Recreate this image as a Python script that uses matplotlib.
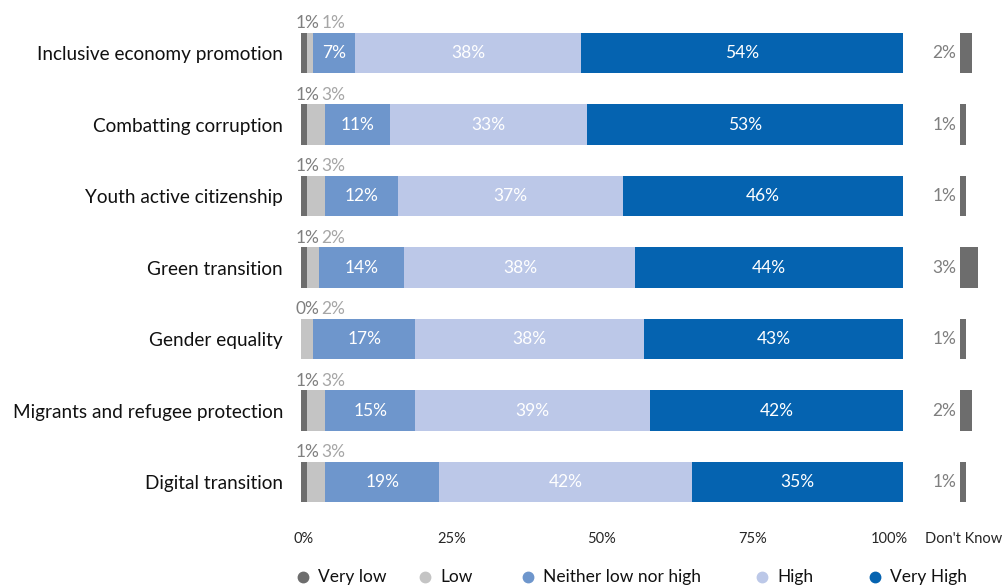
import matplotlib.pyplot as plt
from matplotlib.lines import Line2D
from matplotlib.transforms import ScaledTranslation
import numpy as np

plt.rcParams["font.family"] = ["Lato", "DejaVu Sans"]

categories = [
    "Inclusive economy promotion",
    "Combatting corruption",
    "Youth active citizenship",
    "Green transition",
    "Gender equality",
    "Migrants and refugee protection",
    "Digital transition",
]
very_low = [1, 1, 1, 1, 0, 1, 1]
low = [1, 3, 3, 2, 2, 3, 3]
neither = [7, 11, 12, 14, 17, 15, 19]
high = [38, 33, 37, 38, 38, 39, 42]
very_high = [54, 53, 46, 44, 43, 42, 35]
dont_know = [2, 1, 1, 3, 1, 2, 1]

series_names = ["Very low", "Low", "Neither low nor high", "High", "Very High"]
colors = ["#6d6d6d", "#c4c4c4", "#6e96cc", "#bcc8e8", "#0563b0"]
tick_vals = [0, 25, 50, 75, 100]

series = np.array([very_low, low, neither, high, very_high], dtype=float)
# each row is stretched to fill 0-100%
shares = series / series.sum(axis=0) * 100

fig = plt.figure(figsize=(10.05, 5.86), dpi=100)
ax = fig.add_axes([301 / 1005, 1 - 517.75 / 586, 704 / 1005, 500.5 / 586])

y = np.arange(len(categories))
bar_h = 0.57
left = np.zeros(len(categories))
for i, (name, color) in enumerate(zip(series_names, colors)):
    ax.barh(y, shares[i], left=left, height=bar_h, color=color, label=name)
    for j in range(len(categories)):
        val = int(series[i, j])
        if i >= 2:
            ax.text(left[j] + shares[i, j] / 2, y[j], f"{val}%", ha="center",
                    va="center", color="white", fontsize=12.5)
    left += shares[i]

# small shares are labelled above the bar
for j in range(len(categories)):
    ax.text(-0.9, y[j] - bar_h / 2 - 0.13, f"{very_low[j]}%", ha="left",
            va="center", color="#7f7f7f", fontsize=12.5)
    ax.text(5.4, y[j] - bar_h / 2 - 0.13, f"{low[j]}%", ha="center",
            va="center", color="#a6a6a6", fontsize=12.5)

# Don't Know column
dk_left = 109.5
ax.barh(y, dont_know, left=dk_left, height=bar_h, color="#6d6d6d")
for j in range(len(categories)):
    ax.text(dk_left - 0.6, y[j], f"{dont_know[j]}%", ha="right", va="center",
            color="#7f7f7f", fontsize=12.5)

ax.set_xlim(0, 704 / 6.02)
ax.set_ylim(len(categories) - 0.5, -0.5)
ax.set_yticks(y)
ax.set_yticklabels(categories, fontsize=13.7, color="#111111")
ax.set_xticks(tick_vals + [110.1])
ax.set_xticklabels([f"{v}%" for v in tick_vals] + ["Don't Know"], fontsize=10.5,
                   color="#262626")
ax.tick_params(axis="y", length=0, pad=13)
ax.tick_params(axis="x", length=0, pad=10)
for s in ax.spines.values():
    s.set_visible(False)

# nudge the end labels inward
xlabels = ax.get_xticklabels()
xlabels[0].set_transform(xlabels[0].get_transform()
                         + ScaledTranslation(0.03, 0, fig.dpi_scale_trans))
xlabels[4].set_transform(xlabels[4].get_transform()
                         + ScaledTranslation(-0.14, 0, fig.dpi_scale_trans))

# legend row along the bottom
legend_x = [303, 425, 528, 762, 875]
legend_y = 1 - 577 / 586
for lx, name, color in zip(legend_x, series_names, colors):
    fig.add_artist(Line2D([lx / 1005], [legend_y], marker="o", markersize=7.5,
                          color=color, linestyle="", transform=fig.transFigure))
    fig.text((lx + 15) / 1005, legend_y, name, ha="left", va="center",
             fontsize=12.5, color="#111111")

fig.savefig("out.png", dpi=100)
